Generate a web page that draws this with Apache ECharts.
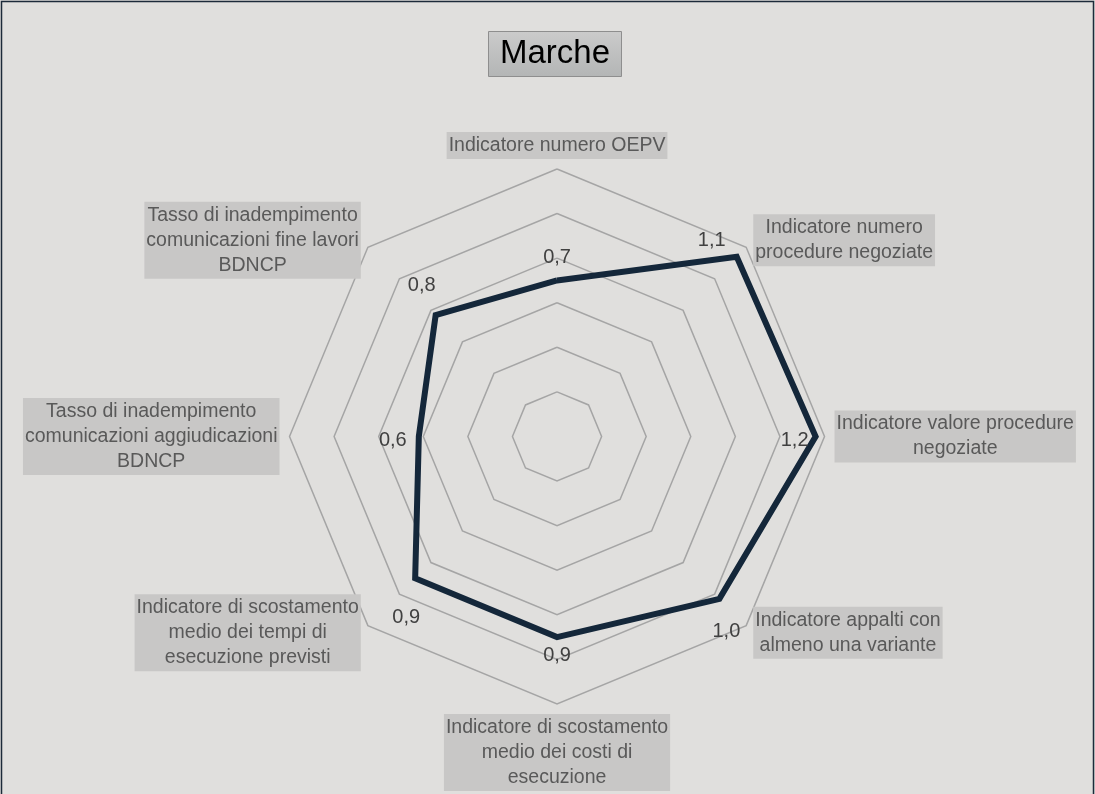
<!DOCTYPE html>
<html>
<head>
<meta charset="utf-8">
<title>Marche</title>
<script src="https://cdn.jsdelivr.net/npm/echarts@6/dist/echarts.min.js"></script>
<style>
  html, body { margin: 0; padding: 0; background: #e0dfdd; }
  #chart { width: 1095px; height: 794px; }
</style>
</head>
<body>
<div id="chart"></div>
<script>
// Indicators, listed counter-clockwise starting from the top axis
const categories = [
  'Indicatore numero OEPV',
  'Tasso di inadempimento\ncomunicazioni fine lavori\nBDNCP',
  'Tasso di inadempimento\ncomunicazioni aggiudicazioni\nBDNCP',
  'Indicatore di scostamento\nmedio dei tempi di\nesecuzione previsti',
  'Indicatore di scostamento\nmedio dei costi di\nesecuzione',
  'Indicatore appalti con\nalmeno una variante',
  'Indicatore valore procedure\nnegoziate',
  'Indicatore numero\nprocedure negoziate'
];
const values = [0.70, 0.77, 0.62, 0.90, 0.90, 1.03, 1.16, 1.14];
const axisMin = 0;
const axisMax = 1.2;
const ringCount = 6;

// Nudges (px) that place each value label around its vertex
const labelOffsets = [
  [0, -23], [-14, -30], [-26, 4], [-9, 39],
  [0, 18], [7, 33], [-21, 4], [-25, -16]
];

const FONT = "'Liberation Sans', Arial, sans-serif";
const fmt = v => v.toFixed(1).replace('.', ',');

const chart = echarts.init(document.getElementById('chart'), null, { renderer: 'canvas' });

const option = {
  backgroundColor: '#e0dfdd',
  animation: false,
  title: {
    text: 'Marche',
    left: 488,
    top: 31,
    padding: [4, 12, 4, 12],
    backgroundColor: {
      type: 'linear', x: 0, y: 0, x2: 0, y2: 1,
      colorStops: [
        { offset: 0, color: '#cbcbcb' },
        { offset: 1, color: '#b3b5b5' }
      ]
    },
    borderColor: '#8e8e8e',
    borderWidth: 1,
    textStyle: {
      fontFamily: FONT,
      fontSize: 33,
      lineHeight: 38,
      fontWeight: 'normal',
      color: '#000000'
    }
  },
  radar: {
    center: ['50.87%', '54.97%'],
    radius: 267.5,
    startAngle: 90,
    splitNumber: ringCount,
    shape: 'polygon',
    axisNameGap: 10,
    indicator: categories.map(name => ({ name: name, min: axisMin, max: axisMax })),
    axisLine: { show: false },
    axisTick: { show: false },
    axisLabel: { show: false },
    splitArea: { show: false },
    splitLine: { lineStyle: { color: '#a5a5a5', width: 1.5 } },
    axisName: {
      color: '#595959',
      fontFamily: FONT,
      fontSize: 19.5,
      lineHeight: 25,
      backgroundColor: '#c8c7c6',
      padding: [1, 2, 1, 2],
      formatter: name => name.split('\n').map(s => '{c|' + s + '}').join('\n'),
      rich: {
        c: {
          align: 'center',
          color: '#595959',
          fontFamily: FONT,
          fontSize: 19.5,
          lineHeight: 25
        }
      }
    }
  },
  series: [{
    type: 'radar',
    symbol: 'none',
    lineStyle: { color: '#14273a', width: 6, join: 'miter' },
    label: { show: false },
    data: [{ value: values, name: 'Marche' }]
  }]
};

chart.setOption(option);

// Value labels, anchored to each vertex through the radar coordinate system
const radarCS = chart.getModel().getComponent('radar', 0).coordinateSystem;
const valueLabels = values.map((v, i) => {
  const p = radarCS.dataToPoint(v, i);
  return {
    type: 'text',
    x: p[0] + labelOffsets[i][0],
    y: p[1] + labelOffsets[i][1],
    z: 10,
    style: {
      text: fmt(v),
      fill: '#404040',
      font: '20px ' + FONT,
      align: 'center',
      verticalAlign: 'middle'
    }
  };
});

chart.setOption({
  graphic: [
    {
      type: 'rect',
      z: 20,
      shape: { x: 1.5, y: 1.5, width: 1092, height: 820 },
      style: { fill: 'none', stroke: '#1c2b3a', lineWidth: 1.5 }
    }
  ].concat(valueLabels)
});
</script>
</body>
</html>
